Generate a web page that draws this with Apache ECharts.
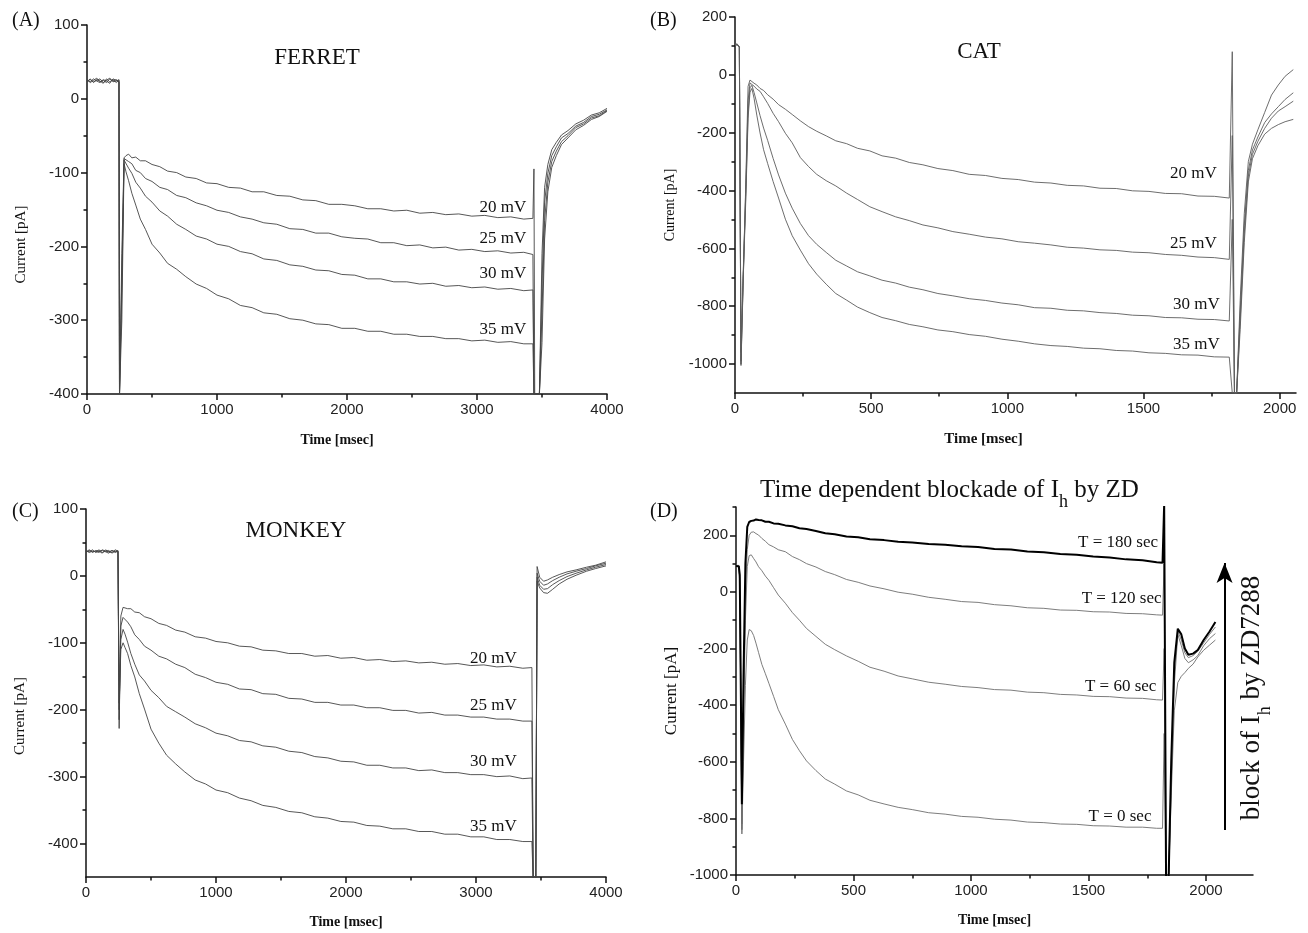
<!DOCTYPE html>
<html>
<head>
<meta charset="utf-8">
<script src="https://cdn.jsdelivr.net/npm/echarts@6/dist/echarts.min.js"></script>
<style>
  html, body { margin: 0; padding: 0; background: #fff; }
  #chart { width: 1308px; height: 933px; }
</style>
</head>
<body>
<div id="chart"></div>
<script>
// ---------- recorded current traces (time in ms, current in pA) ----------

// (A) ferret, steps of 20-35 mV
const tFerret = [
  0, 25, 50, 75, 100, 125, 150, 175, 200, 225, 246,
  250, 268, 285, 300, 320, 345, 375, 410, 450, 500, 560, 620, 690,
  760, 840, 920, 1000, 1090, 1180, 1270, 1360, 1460, 1560, 1660, 1760, 1860, 1960,
  2060, 2160, 2260, 2360, 2460, 2560, 2660, 2760, 2860, 2960, 3060, 3160, 3260, 3360, 3430,
  3438, 3444, 3480, 3500, 3520, 3545, 3575, 3610, 3650, 3700, 3760, 3820, 3880, 3940, 4000
];
const ferret20 = [
  23, 27, 22, 26, 24, 21, 27, 23, 26, 22, 25,
  -400, -210, -80, -77, -75, -80, -79, -84, -84, -89, -92, -98, -100,
  -106, -108, -114, -115, -120, -121, -126, -126, -131, -132, -137, -138, -143, -143,
  -145, -149, -149, -152, -151, -155, -154, -157, -156, -159, -158, -161, -160, -163, -162,
  -95, -400, -400, -210, -120, -89, -69, -59, -49, -43, -34, -29, -22, -19, -13
];
const ferret25 = [
  26, 22, 25, 28, 23, 25, 22, 27, 24, 26, 23,
  -400, -240, -81, -80, -85, -88, -97, -100, -108, -112, -120, -123, -131,
  -134, -141, -145, -151, -154, -160, -163, -168, -170, -176, -177, -182, -182, -187,
  -189, -190, -195, -195, -199, -198, -202, -201, -205, -204, -207, -206, -209, -208, -211,
  -400, -400, -400, -250, -140, -101, -77, -65, -53, -47, -37, -32, -24, -21, -15
];
const ferret30 = [
  24, 26, 23, 25, 27, 22, 25, 28, 23, 24, 26,
  -400, -260, -83, -85, -94, -101, -113, -121, -132, -140, -152, -159, -170,
  -177, -186, -190, -197, -200, -207, -210, -217, -219, -225, -227, -232, -233, -238,
  -239, -244, -244, -248, -248, -251, -250, -254, -253, -256, -255, -258, -257, -260, -259,
  -400, -400, -400, -290, -165, -113, -85, -71, -58, -50, -39, -34, -26, -23, -16
];
const ferret35 = [
  25, 23, 27, 24, 22, 26, 24, 21, 27, 25, 23,
  -400, -300, -88, -99, -111, -128, -144, -163, -177, -197, -209, -223, -231,
  -241, -251, -257, -266, -271, -280, -283, -290, -292, -298, -300, -305, -306, -311,
  -311, -315, -315, -319, -319, -322, -322, -325, -325, -328, -327, -330, -329, -332, -332,
  -400, -400, -400, -330, -190, -126, -93, -77, -62, -53, -42, -36, -28, -24, -17
];

// (B) cat
const tCat = [
  0, 4, 8, 12, 16,
  22, 30, 40, 48, 55, 62, 70, 80, 92, 105, 120, 140, 160, 185, 210, 240, 270, 300,
  335, 370, 410, 450, 495, 540, 590, 640, 690, 745, 800, 860, 920, 980, 1040, 1100,
  1160, 1220, 1280, 1340, 1400, 1460, 1520, 1580, 1640, 1700, 1760, 1815,
  1826, 1834, 1842, 1855, 1870, 1885, 1900, 1920, 1945, 1970, 1995, 2020, 2050
];
const cat20 = [
  104, 107, 103, 106, 98,
  -1005, -720, -360, -40, -18, -22, -29, -35, -47, -54, -69, -84, -103, -119, -137, -159, -179, -195,
  -211, -228, -238, -254, -263, -280, -288, -303, -311, -324, -331, -344, -348, -358, -362, -371,
  -374, -382, -384, -392, -393, -401, -403, -410, -411, -419, -420, -426,
  80, -1100, -1100, -780, -480, -300, -240, -190, -130, -70, -35, -5, 18
];
const cat25 = [
  106, 102, 105, 103, 95,
  -960, -690, -380, -90, -28, -33, -39, -49, -57, -76, -99, -133, -162, -202, -235, -286, -317, -344,
  -366, -384, -409, -431, -456, -473, -491, -504, -519, -529, -542, -551, -561, -567, -577, -582,
  -588, -596, -599, -605, -607, -613, -615, -621, -624, -630, -632, -638,
  -210, -1100, -1100, -820, -520, -330, -260, -215, -165, -135, -110, -85, -62
];
const cat30 = [
  105, 103, 107, 104, 96,
  -990, -700, -400, -130, -45, -36, -61, -97, -141, -184, -227, -289, -346, -409, -461, -514, -556, -586,
  -614, -641, -661, -681, -695, -710, -720, -734, -743, -756, -764, -774, -780, -789, -795, -805,
  -807, -814, -816, -822, -825, -831, -833, -839, -840, -845, -846, -851,
  -500, -1100, -1100, -850, -550, -350, -275, -230, -185, -150, -125, -110, -91
];
const cat35 = [
  103, 106, 104, 107, 97,
  -1000, -710, -420, -150, -60, -47, -81, -139, -201, -259, -307, -369, -426, -499, -556, -606, -653, -689,
  -724, -756, -779, -803, -822, -839, -850, -863, -871, -882, -888, -898, -904, -914, -921, -930,
  -936, -939, -945, -947, -953, -955, -961, -963, -968, -969, -975, -976,
  -1100, -1100, -1100, -880, -580, -370, -290, -245, -205, -185, -172, -162, -154
];

// (C) monkey
const tMonkey = [
  0, 25, 50, 75, 100, 125, 150, 175, 200, 225, 246,
  255, 268, 285, 300, 320, 345, 375, 410, 450, 500, 560, 620, 690,
  760, 840, 920, 1000, 1090, 1180, 1270, 1360, 1460, 1560, 1660, 1760, 1860, 1960,
  2060, 2160, 2260, 2360, 2460, 2560, 2660, 2760, 2860, 2960, 3060, 3160, 3260, 3360, 3430,
  3440, 3460, 3470, 3490, 3520, 3550, 3590, 3640, 3700, 3770, 3850, 3920, 4000
];
const monkey20 = [
  36, 39, 35, 38, 37, 34, 39, 36, 38, 35, 37,
  -228, -60, -47, -46, -49, -49, -54, -55, -61, -64, -71, -74, -81,
  -84, -91, -93, -98, -100, -105, -106, -111, -112, -116, -116, -120, -119, -123,
  -122, -126, -125, -128, -127, -130, -129, -132, -131, -134, -133, -136, -135, -138, -137,
  -455, -455, 14, -2, -8, -6, -2, 2, 6, 9, 13, 16, 21
];
const monkey25 = [
  38, 35, 37, 36, 39, 35, 37, 38, 34, 37, 36,
  -215, -75, -62, -61, -69, -76, -88, -95, -105, -111, -120, -124, -132,
  -137, -147, -152, -159, -162, -169, -170, -176, -177, -183, -184, -189, -189, -193,
  -193, -197, -197, -201, -201, -205, -204, -208, -208, -211, -211, -214, -214, -217, -217,
  -455, -455, 4, -8, -14, -12, -7, -2, 3, 7, 11, 15, 19
];
const monkey30 = [
  37, 36, 39, 35, 37, 38, 36, 34, 38, 36, 38,
  -200, -95, -80, -87, -99, -116, -132, -148, -157, -171, -182, -195, -203,
  -211, -221, -227, -235, -239, -246, -248, -254, -256, -262, -264, -270, -272, -277,
  -278, -283, -283, -287, -287, -291, -290, -294, -294, -297, -297, -300, -299, -303, -302,
  -455, -455, -2, -14, -20, -19, -13, -7, -1, 4, 9, 13, 17
];
const monkey35 = [
  35, 38, 36, 37, 35, 39, 37, 36, 35, 39, 37,
  -190, -110, -100, -107, -116, -134, -151, -176, -199, -229, -250, -268, -281,
  -293, -305, -311, -320, -324, -332, -336, -343, -346, -352, -354, -360, -362, -367,
  -368, -373, -374, -378, -378, -382, -382, -386, -386, -390, -390, -394, -394, -397, -397,
  -455, -455, -8, -18, -25, -26, -20, -12, -5, 1, 7, 11, 15
];

// (D) ZD7288 wash-in, sweeps at 0, 60, 120 and 180 s
const tZd = [
  0, 4, 8, 12, 16,
  25, 32, 40, 48, 56, 65, 75, 85, 96, 110, 125, 140, 160, 180, 210, 240, 270, 300,
  340, 380, 420, 470, 520, 570, 630, 690, 750, 820, 890, 960, 1030, 1100,
  1170, 1240, 1310, 1380, 1450, 1520, 1590, 1660, 1730, 1790, 1815,
  1822, 1830, 1841, 1852, 1865, 1880, 1895, 1910, 1925, 1945, 1965, 1990, 2015, 2040
];
const zd180 = [
  92, 94, 93, 90, 60,
  -750, -300, 100, 230, 247, 251, 252, 256, 254, 253, 248, 248, 242, 241, 235, 232, 225, 222,
  215, 207, 204, 196, 193, 186, 183, 177, 175, 169, 167, 161, 159, 152,
  150, 143, 140, 134, 131, 125, 122, 115, 112, 105, 103,
  310, -1010, -1010, -600, -250, -130, -150, -200, -222, -218, -205, -170, -140, -106
];
const zd120 = [
  95, 91, 94, 92, 50,
  -820, -400, 0, 150, 200, 211, 212, 206, 201, 189, 179, 167, 159, 149, 142, 125, 114, 100,
  88, 72, 61, 44, 34, 21, 11, -1, -8, -19, -26, -34, -37, -45,
  -49, -56, -58, -64, -65, -70, -71, -76, -77, -81, -82,
  100, -1010, -1010, -640, -290, -138, -170, -215, -232, -225, -210, -180, -150, -124
];
const zd60 = [
  93, 96, 92, 94, 40,
  -840, -450, -100, 90, 128, 131, 118, 106, 89, 75, 56, 41, 15, -11, -40, -73, -100, -129,
  -157, -185, -204, -226, -245, -266, -280, -297, -307, -319, -326, -334, -338, -345,
  -347, -354, -356, -362, -364, -369, -370, -375, -376, -381, -382,
  -200, -1010, -1010, -680, -330, -150, -190, -235, -250, -240, -225, -190, -165, -147
];
const zd0 = [
  94, 91, 95, 93, 30,
  -855, -600, -330, -170, -133, -137, -154, -181, -214, -256, -289, -323, -369, -416, -467, -521, -561, -597,
  -631, -661, -679, -703, -717, -736, -749, -761, -769, -780, -785, -793, -796, -803,
  -806, -813, -815, -820, -821, -826, -827, -831, -831, -835, -835,
  -500, -1010, -1010, -720, -420, -320, -298, -285, -270, -255, -230, -206, -188, -170
];

// ---------- tick values and text ----------
const ferretXTicks = [0, 1000, 2000, 3000, 4000];
const ferretXMinor = [500, 1500, 2500, 3500];
const ferretYTicks = [-400, -300, -200, -100, 0, 100];
const ferretYMinor = [-350, -250, -150, -50, 50];

const catXTicks = [0, 500, 1000, 1500, 2000];
const catXMinor = [250, 750, 1250, 1750];
const catYTicks = [-1000, -800, -600, -400, -200, 0, 200];
const catYMinor = [-900, -700, -500, -300, -100, 100];

const monkeyXTicks = [0, 1000, 2000, 3000, 4000];
const monkeyXMinor = [500, 1500, 2500, 3500];
const monkeyYTicks = [-400, -300, -200, -100, 0, 100];
const monkeyYMinor = [-350, -250, -150, -50, 50];

const zdXTicks = [0, 500, 1000, 1500, 2000];
const zdXMinor = [250, 750, 1250, 1750];
const zdYTicks = [-1000, -800, -600, -400, -200, 0, 200];
const zdYMinor = [-900, -700, -500, -300, -100, 100, 300];

const mvLabels = ['20 mV', '25 mV', '30 mV', '35 mV'];
const zdLabels = ['T = 180 sec', 'T = 120 sec', 'T = 60 sec', 'T = 0 sec'];
const panelTitles = ['FERRET', 'CAT', 'MONKEY'];

// ---------- layout ----------
const SERIF = '"Liberation Serif", "Times New Roman", serif';
const SANS = '"Liberation Sans", Arial, sans-serif';
const INK = '#111';

// anchor (right end, vertical middle) of each trace label, in data units
const ferretLabelAt = [[3382, -148], [3382, -190], [3382, -237], [3382, -313]];
const catLabelAt = [[1771, -342], [1771, -582], [1782, -795], [1782, -931]];
const monkeyLabelAt = [[3318, -123], [3318, -193], [3318, -278], [3318, -374]];
const zdLabelAt = [[1798, 176], [1813, -23], [1791, -335], [1770, -794]];

function traceData(t, v) {
  return t.map((x, i) => [x, v[i]]);
}

// name: axis title; nameShift: [gap from axis, padding that slides the title along the axis]
function axisPair(dim, gridIndex, min, max, ticks, minor, name, nameGap, nameSize, bold, namePad) {
  const pos = dim === 'x' ? 'bottom' : 'left';
  const major = {
    type: 'value', gridIndex, min, max, position: pos,
    name, nameLocation: 'middle', nameGap,
    nameTextStyle: {
      fontFamily: SERIF, fontSize: nameSize, fontWeight: bold ? 'bold' : 'normal', color: INK,
      padding: namePad || 0
    },
    axisLine: { show: true, onZero: false, lineStyle: { color: INK, width: 1.5 } },
    axisTick: { show: true, customValues: ticks, length: 6, lineStyle: { color: INK, width: 1.5 } },
    axisLabel: {
      show: true, customValues: ticks, margin: 8,
      fontFamily: SANS, fontSize: 15, color: '#222',
      formatter: (v) => String(v)
    },
    splitLine: { show: false }
  };
  const small = {
    type: 'value', gridIndex, min, max, position: pos, offset: 0,
    axisLine: { show: false, onZero: false },
    axisTick: { show: true, customValues: minor, length: 3.5, lineStyle: { color: INK, width: 1.5 } },
    axisLabel: { show: false },
    splitLine: { show: false }
  };
  return [major, small];
}

function traceSeries(gi, t, v, color, width, label, labelAt, z) {
  return {
    type: 'line',
    xAxisIndex: gi * 2, yAxisIndex: gi * 2,
    data: traceData(t, v),
    symbol: 'none', showSymbol: false, clip: true, silent: true,
    lineStyle: { color, width },
    z,
    markPoint: {
      symbol: 'circle', symbolSize: 1, silent: true,
      itemStyle: { color: 'rgba(0,0,0,0)' },
      label: {
        show: true, position: 'left', distance: 0, formatter: label,
        fontFamily: SERIF, fontSize: 17, color: INK
      },
      data: [{ coord: labelAt }]
    }
  };
}

const grids = [
  { left: 87, top: 25, width: 520, height: 369 },
  { left: 735, top: 17, width: 561, height: 376 },
  { left: 86, top: 509, width: 520, height: 368 },
  { left: 736, top: 507, width: 517, height: 368 }
];

const xAxes = [
  ...axisPair('x', 0, 0, 4000, ferretXTicks, ferretXMinor, 'Time [msec]', 39, 14, true, [0, 20, 0, 0]),
  ...axisPair('x', 1, 0, 2060, catXTicks, catXMinor, 'Time [msec]', 39, 15, true, [0, 64, 0, 0]),
  ...axisPair('x', 2, 0, 4000, monkeyXTicks, monkeyXMinor, 'Time [msec]', 38, 14, true),
  ...axisPair('x', 3, 0, 2200, zdXTicks, zdXMinor, 'Time [msec]', 38, 14, true)
];
const yAxes = [
  ...axisPair('y', 0, -400, 100, ferretYTicks, ferretYMinor, 'Current [pA]', 58, 15, false, [0, 70, 0, 0]),
  ...axisPair('y', 1, -1100, 200, catYTicks, catYMinor, 'Current [pA]', 58, 14, false),
  ...axisPair('y', 2, -450, 100, monkeyYTicks, monkeyYMinor, 'Current [pA]', 58, 15, false, [0, 46, 0, 0]),
  ...axisPair('y', 3, -1000, 300, zdYTicks, zdYMinor, 'Current [pA]', 56, 17, false)
];

const traceGray = '#444';
const catGray = '#5c5c5c';
const zdGray = '#6e6e6e';

const series = [];
[ferret20, ferret25, ferret30, ferret35].forEach((v, i) =>
  series.push(traceSeries(0, tFerret, v, traceGray, 0.9, mvLabels[i], ferretLabelAt[i], 2)));
[cat20, cat25, cat30, cat35].forEach((v, i) =>
  series.push(traceSeries(1, tCat, v, catGray, 0.9, mvLabels[i], catLabelAt[i], 2)));
[monkey20, monkey25, monkey30, monkey35].forEach((v, i) =>
  series.push(traceSeries(2, tMonkey, v, traceGray, 0.9, mvLabels[i], monkeyLabelAt[i], 2)));
[zd180, zd120, zd60, zd0].forEach((v, i) => {
  const bold = i === 0;
  series.push(traceSeries(3, tZd, v, bold ? '#000' : zdGray, bold ? 2 : 0.9, zdLabels[i], zdLabelAt[i], bold ? 4 : 2));
});

// upward arrow: block of Ih by ZD7288
series[12].markLine = {
  silent: true, symbol: ['none', 'arrow'], symbolSize: [12, 20],
  lineStyle: { color: '#000', width: 2, type: 'solid' },
  label: { show: false },
  data: [[{ coord: [2079, -841] }, { coord: [2079, 102] }]]
};

const subRich = {
  h: { fontFamily: SERIF, fontSize: 18, lineHeight: 18, verticalAlign: 'bottom', fill: INK, color: INK }
};

function textEl(x, y, text, size, align) {
  return {
    type: 'text', x, y, silent: true,
    style: {
      text, fontFamily: SERIF, fontSize: size, fill: INK,
      textAlign: align, align: align,
      textVerticalAlign: 'middle', verticalAlign: 'middle'
    }
  };
}

const graphics = [
  textEl(12, 21, '(A)', 20, 'left'),
  textEl(650, 21, '(B)', 20, 'left'),
  textEl(12, 512, '(C)', 20, 'left'),
  textEl(650, 512, '(D)', 20, 'left'),
  textEl(317, 58, panelTitles[0], 23, 'center'),
  textEl(979, 52, panelTitles[1], 23, 'center'),
  textEl(296, 531, panelTitles[2], 23, 'center'),
  {
    type: 'text', x: 760, y: 490, silent: true,
    style: {
      text: 'Time dependent blockade of I{h|h} by ZD',
      fontFamily: SERIF, fontSize: 25, lineHeight: 42, fill: INK,
      textAlign: 'left', align: 'left',
      textVerticalAlign: 'middle', verticalAlign: 'middle',
      rich: subRich
    }
  },
  {
    type: 'text', x: 1252, y: 698, rotation: Math.PI / 2, silent: true,
    style: {
      text: 'block of I{h|h} by ZD7288',
      fontFamily: SERIF, fontSize: 27, lineHeight: 44, fill: INK,
      textAlign: 'center', align: 'center',
      textVerticalAlign: 'middle', verticalAlign: 'middle',
      rich: subRich
    }
  }
];

const chart = echarts.init(document.getElementById('chart'), null, { renderer: 'canvas' });
chart.setOption({
  animation: false,
  backgroundColor: '#fff',
  grid: grids,
  xAxis: xAxes,
  yAxis: yAxes,
  series,
  graphic: graphics
});
</script>
</body>
</html>
